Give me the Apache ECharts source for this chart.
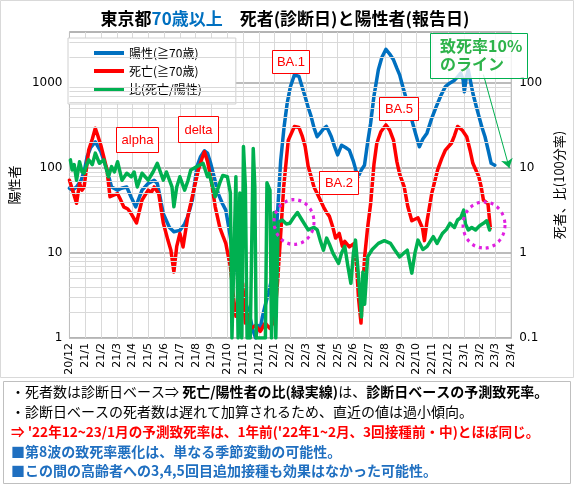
<!DOCTYPE html>
<html><head><meta charset="utf-8">
<script src="https://cdn.jsdelivr.net/npm/echarts@6/dist/echarts.min.js"></script>
<style>html,body{margin:0;padding:0;background:#fff}#c{width:574px;height:485px}</style>
</head><body><div id="c"></div><script>
// x position = months counted from Dec 2020 (0 = 20/12, 1 = 21/1 ...)
const monthLabels = ['20/12','21/1','21/2','21/3','21/4','21/5','21/6','21/7','21/8','21/9','21/10','21/11','21/12',
  '22/1','22/2','22/3','22/4','22/5','22/6','22/7','22/8','22/9','22/10','22/11','22/12','23/1','23/2','23/3','23/4'];
const leftMinor = [2,3,4,5,6,7,8,9,20,30,40,50,60,70,80,90,200,300,400,500,600,700,800,900,2000,3000];

// positives, age >= 70 (left axis)
const positive = [[0.0,58],[0.2,55],[0.45,60],[0.74,72],[0.95,95],[1.12,136],[1.35,175],[1.64,204],[1.99,156],[2.2,120],[2.38,95],[2.67,60],[3.05,55],[3.3,58],[3.63,60],[3.9,46],[4.2,35],[4.6,55],[4.99,66],[5.37,72],[5.57,66],[5.75,45],[5.95,29],[6.34,20],[6.62,17.8],[7.0,18.5],[7.3,22],[7.5,27],[7.79,42],[8.08,104],[8.3,135],[8.56,160],[8.75,150],[8.95,114],[9.2,75],[9.43,50],[9.7,38],[9.91,32],[10.1,20],[10.3,11.8],[10.5,7.5],[10.68,5.2],[10.9,4],[11.1,2.8],[11.3,2.2],[11.5,1.6],[11.65,1.2],[11.8,1.0],[11.95,1.4],[12.1,1.3],[12.23,1.77],[12.4,2.4],[12.62,3.4],[12.9,5.8],[13.05,12],[13.2,32],[13.39,123],[13.6,300],[13.8,580],[14.0,900],[14.26,1253],[14.55,1200],[14.75,900],[14.94,693],[15.13,520],[15.32,404],[15.5,300],[15.7,234],[15.9,260],[16.1,290],[16.29,309],[16.45,270],[16.6,234],[16.8,180],[17.0,143],[17.25,186],[17.5,175],[17.74,163],[18.0,120],[18.15,95],[18.3,79],[18.5,95],[18.7,108],[18.9,200],[19.09,337],[19.3,700],[19.58,1436],[19.8,2000],[20.06,2506],[20.3,2200],[20.54,1883],[20.75,1500],[20.93,1250],[21.1,950],[21.31,693],[21.5,500],[21.7,369],[21.95,250],[22.18,178],[22.4,220],[22.66,258],[22.95,380],[23.25,530],[23.55,720],[23.83,910],[24.1,1000],[24.41,1085],[24.6,1180],[24.8,1312],[24.95,1100],[25.03,790],[25.15,1150],[25.28,1436],[25.4,1100],[25.57,760],[25.8,520],[25.96,404],[26.15,300],[26.34,234],[26.55,160],[26.73,114],[26.96,108]];

// deaths, age >= 70 (left axis)
const deaths = [[0.0,72],[0.2,55],[0.45,38.5],[0.64,66],[0.8,55],[0.93,60],[1.22,163],[1.45,220],[1.64,295],[1.8,240],[1.99,186],[2.2,130],[2.38,95],[2.57,46],[2.8,48],[3.05,50],[3.25,42],[3.44,35],[3.7,33],[3.92,29],[4.25,22.6],[4.6,42],[4.99,55],[5.2,52],[5.37,60],[5.66,50],[5.95,22.6],[6.24,14.2],[6.43,10.8],[6.62,6.0],[6.8,12],[7.0,17],[7.2,11.8],[7.5,26.8],[7.88,55],[8.17,95],[8.4,130],[8.56,156],[8.75,120],[8.95,79],[9.24,35],[9.53,20],[9.72,16],[9.91,13],[10.2,6.9],[10.4,3.0],[10.55,1.8],[10.75,2.2],[10.98,4.4],[11.15,1.5],[11.26,1.95],[11.5,1.3],[11.8,1.4],[12.1,1.2],[12.4,1.5],[12.7,1.3],[13.0,1.6],[13.2,4.8],[13.39,16.7],[13.58,60],[13.87,213],[14.26,309],[14.55,300],[14.75,240],[14.94,180],[15.13,105],[15.32,79],[15.5,60],[15.71,50],[15.9,42],[16.1,35],[16.3,30],[16.48,27],[16.7,20],[16.87,15],[17.1,17],[17.3,12],[17.45,13.7],[17.74,11.8],[18.03,12.9],[18.2,7],[18.32,3.0],[18.48,1.5],[18.6,4],[18.71,9.0],[18.9,20],[19.09,38],[19.3,110],[19.48,196],[19.75,270],[20.06,322],[20.3,280],[20.54,213],[20.75,120],[20.93,85],[21.22,60],[21.45,35],[21.7,24],[22.09,26],[22.38,19.6],[22.5,14],[22.67,24],[22.96,50],[23.34,96],[23.6,130],[23.83,163],[24.21,196],[24.4,240],[24.6,309],[24.89,280],[25.18,234],[25.4,160],[25.57,114],[25.95,79],[26.1,60],[26.24,42],[26.53,38],[26.68,19.6]];

// ratio deaths/positives in percent (right axis)
const ratio = [[0.06,12.5],[0.17,9.5],[0.3,11],[0.45,7.2],[0.64,11.9],[0.8,9],[0.93,8.7],[1.1,11],[1.22,12.5],[1.45,11],[1.64,15],[1.9,11.4],[2.18,12.5],[2.47,7.9],[2.67,10.4],[2.85,9],[3.05,11.9],[3.33,7.2],[3.63,8.7],[3.92,7.9],[4.1,9],[4.3,6.0],[4.6,8.7],[4.99,7.2],[5.3,9],[5.57,11.4],[5.95,7.2],[6.15,9],[6.34,7.2],[6.5,6],[6.62,3.5],[6.8,6],[7.0,7.9],[7.3,5.5],[7.5,7],[7.69,9.5],[8.08,10.4],[8.47,11.4],[8.75,7.9],[8.85,8.7],[9.14,5.5],[9.24,4.6],[9.53,6.7],[9.72,8.2],[10.01,7.9],[10.2,5.1],[10.3,0.1],[10.55,7.9],[10.69,0.1],[10.8,5.1],[10.92,0.1],[11.03,17.9],[11.15,6],[11.26,0.1],[11.46,0.1],[11.65,17],[11.75,6],[11.84,0.1],[12.42,0.1],[12.52,6.7],[12.71,5.5],[12.81,0.1],[12.97,3.0],[13.08,0.1],[13.23,2.3],[13.49,2.45],[13.75,2.2],[13.97,2.24],[14.2,2.6],[14.45,3.0],[14.74,2.45],[15.13,1.87],[15.5,2.0],[15.71,1.87],[15.9,1.4],[16.1,1.08],[16.3,1.5],[16.48,1.27],[16.7,1.0],[17.06,0.756],[17.25,1.0],[17.45,1.2],[17.65,0.7],[17.84,0.44],[18.0,1.0],[18.13,1.42],[18.3,0.6],[18.42,0.305],[18.51,0.177],[18.6,0.6],[18.71,0.25],[18.9,0.9],[19.19,1.1],[19.58,1.3],[19.96,1.4],[20.35,1.3],[20.6,1.1],[20.93,0.9],[21.2,1.0],[21.41,1.08],[21.7,0.58],[21.9,1.0],[22.09,1.42],[22.4,1.1],[22.67,1.2],[23.06,1.56],[23.3,1.3],[23.64,1.7],[23.9,1.9],[24.12,2.24],[24.4,2.0],[24.6,2.45],[24.8,2.6],[24.99,3.2],[25.1,2.2],[25.28,1.87],[25.5,2.0],[25.74,1.87],[26.0,2.1],[26.24,2.24],[26.45,2.4],[26.63,1.87]];

const JP = '"Noto Sans CJK JP", sans-serif';
const chart = echarts.init(document.getElementById('c'), null, {renderer:'canvas'});

function isPow10(v){ const l = Math.log10(v); return Math.abs(l - Math.round(l)) < 1e-6; }
function box(x, y, w, h, text, color, fontSize){
  return {type:'group', x:x, y:y, z:100, children:[
    {type:'rect', z:100, shape:{x:0.5,y:0.5,width:w,height:h}, style:{fill:'#fff', stroke:color, lineWidth:1}},
    {type:'text', z:101, x:w/2+0.5, y:h/2+1, style:{text:text, fill:color, fontSize:fontSize, fontFamily:'"Liberation Sans", Arial, sans-serif', align:'center', verticalAlign:'middle'}}
  ]};
}
function circle(cx, cy, r, sy){
  return {type:'circle', x:cx, y:cy, scaleY:sy, z:100, shape:{cx:0, cy:0, r:r}, style:{fill:'none', stroke:'#e020e0', lineWidth:3, lineDash:[3,4]}};
}

const option = {
  animation:false,
  backgroundColor:'#fff',
  grid:{left:49, right:42, top:32, bottom:147, show:true, borderColor:'#bfbfbf', borderWidth:1, backgroundColor:'transparent'},
  legend:{
    data:['陽性(≧70歳)','死亡(≧70歳)','比(死亡/陽性)'],
    orient:'vertical', left:68, top:38, icon:'rect', itemWidth:30, itemHeight:4, itemGap:4,
    padding:[8,34,8,26], backgroundColor:'#fff', borderColor:'#d0d0d0', borderWidth:1, borderRadius:0,
    textStyle:{fontSize:12, fontFamily:JP, color:'#000', lineHeight:14}, selectedMode:false
  },
  xAxis:{
    type:'value', min:0, max:28, interval:1,
    axisLine:{show:true, lineStyle:{color:'#bfbfbf'}}, axisTick:{show:false},
    axisLabel:{rotate:90, fontSize:11, color:'#000', fontFamily:'"DejaVu Sans", sans-serif', margin:5,
      formatter:(v)=> monthLabels[Math.round(v)] || ''},
    splitLine:{show:true, lineStyle:{color:'#d9d9d9', width:1}}
  },
  yAxis:[
    {type:'log', logBase:10, min:1, max:4000, position:'left',
      name:'陽性者', nameLocation:'middle', nameGap:36, nameRotate:90,
      nameTextStyle:{fontSize:13, fontFamily:JP, color:'#000'},
      axisLine:{show:true, lineStyle:{color:'#bfbfbf'}}, axisTick:{show:false},
      axisLabel:{fontSize:12, color:'#000', fontFamily:'"DejaVu Sans", sans-serif', margin:7,
        formatter:(v)=> isPow10(v) ? String(Math.round(v)) : ''},
      splitLine:{show:true, lineStyle:{color:'#a6a6a6', width:1.5}}
    },
    {type:'log', logBase:10, min:0.1, max:400, position:'right',
      name:'死者、比(100分率)', nameLocation:'middle', nameGap:28, nameRotate:90,
      nameTextStyle:{fontSize:13, fontFamily:JP, color:'#000'},
      axisLine:{show:true, lineStyle:{color:'#bfbfbf'}}, axisTick:{show:false},
      axisLabel:{fontSize:12, color:'#000', fontFamily:'"DejaVu Sans", sans-serif', margin:8,
        formatter:(v)=> isPow10(v) ? (v < 1 ? v.toFixed(1) : String(Math.round(v))) : ''},
      splitLine:{show:false}
    }
  ],
  series:[
    {name:'minor', type:'line', yAxisIndex:0, data:[], z:1, silent:true,
      markLine:{silent:true, symbol:'none', label:{show:false}, animation:false,
        lineStyle:{color:'#d9d9d9', width:1, type:'solid'},
        data: leftMinor.map(v=>({yAxis:v}))}},
    {name:'陽性(≧70歳)', type:'line', yAxisIndex:0, data:positive, symbol:'none', z:3,
      lineStyle:{color:'#0070c0', width:3.5, join:'round', cap:'round'}, itemStyle:{color:'#0070c0'}},
    {name:'死亡(≧70歳)', type:'line', yAxisIndex:0, data:deaths, symbol:'none', z:4,
      lineStyle:{color:'#ff0000', width:3.5, join:'round', cap:'round'}, itemStyle:{color:'#ff0000'}},
    {name:'比(死亡/陽性)', type:'line', yAxisIndex:1, data:ratio, symbol:'none', z:5,
      lineStyle:{color:'#00b050', width:3.5, join:'round', cap:'round'}, itemStyle:{color:'#00b050'},
      markLine:{silent:true, symbol:['none','arrow'], symbolSize:9, label:{show:false},
        lineStyle:{color:'#00b050', width:1, type:'solid'},
        data:[[{coord:[26.24,126]},{coord:[27.88,10]}]]}}
  ],
  graphic:[
    {type:'rect', z:-1, shape:{x:0.5,y:0.5,width:573,height:377}, style:{fill:'none', stroke:'#d9d9d9', lineWidth:1}},
    {type:'rect', z:-1, shape:{x:3.5,y:381.5,width:567,height:102}, style:{fill:'none', stroke:'#bfbfbf', lineWidth:1}},
    {type:'text', x:285, y:19, z:100, style:{text:'{a|東京都}{b|70歳以上}{a|　死者(診断日)と陽性者(報告日)}', align:'center', verticalAlign:'middle',
      rich:{a:{fontSize:17, fontWeight:'bold', fontFamily:JP, fill:'#000'}, b:{fontSize:17, fontWeight:'bold', fontFamily:JP, fill:'#0070c0'}}}},
    box(116,127,42,25,'alpha','#ff0000',13),
    box(178,116,40,26,'delta','#ff0000',13),
    box(272,50,37,23,'BA.1','#ff0000',13),
    box(319,171,39,23,'BA.2','#ff0000',13),
    box(379,97,39,23,'BA.5','#ff0000',13),
    {type:'group', x:430, y:33, z:100, children:[
      {type:'rect', z:100, shape:{x:0.5,y:0.5,width:97,height:45}, style:{fill:'rgba(255,255,255,0.8)', stroke:'#00b050', lineWidth:1}},
      {type:'text', z:101, x:10, y:13, style:{text:'致死率10%', fill:'#2db34a', fontSize:16, fontWeight:'bold', fontFamily:JP, verticalAlign:'middle'}},
      {type:'text', z:101, x:10, y:31, style:{text:'のライン', fill:'#2db34a', fontSize:16, fontWeight:'bold', fontFamily:JP, verticalAlign:'middle'}}
    ]},
    circle(294,222,20,1.12),
    circle(484,225,21,1.1),
    {type:'text', x:11, y:392, z:100, style:{text:'・死者数は診断日ベース⇒ {b|死亡/陽性者の比(緑実線)}は、{b|診断日ベースの予測致死率。}',
      fontSize:14, fontFamily:JP, fill:'#000', verticalAlign:'middle', rich:{b:{fontSize:14, fontFamily:JP, fontWeight:'bold', fill:'#000'}}}},
    {type:'text', x:11, y:412, z:100, style:{text:'・診断日ベースの死者数は遅れて加算されるため、直近の値は過小傾向。',
      fontSize:14, fontFamily:JP, fill:'#000', verticalAlign:'middle'}},
    {type:'text', x:11, y:432, z:100, style:{text:"⇒ '22年12~23/1月の予測致死率は、1年前('22年1~2月、3回接種前・中)とほぼ同じ。",
      fontSize:13.6, fontFamily:JP, fontWeight:'bold', fill:'#ff0000', verticalAlign:'middle'}},
    {type:'text', x:11, y:452, z:100, style:{text:'■第8波の致死率悪化は、単なる季節変動の可能性。',
      fontSize:14, fontFamily:JP, fontWeight:'bold', fill:'#1f6fc0', verticalAlign:'middle'}},
    {type:'text', x:11, y:471, z:100, style:{text:'■この間の高齢者への3,4,5回目追加接種も効果はなかった可能性。',
      fontSize:14, fontFamily:JP, fontWeight:'bold', fill:'#1f6fc0', verticalAlign:'middle'}}
  ]
};
chart.setOption(option);
</script></body></html>
